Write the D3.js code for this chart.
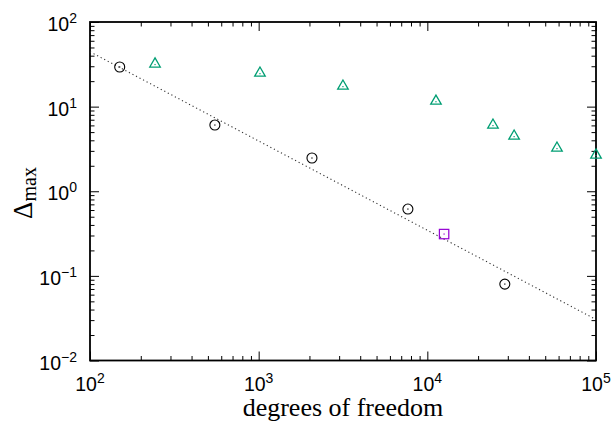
<!DOCTYPE html>
<html>
<head>
<meta charset="utf-8">
<script src="https://cdn.jsdelivr.net/npm/d3@7"></script>
<style>
  body { margin: 0; background: #fff; }
  svg { display: block; }
</style>
</head>
<body>
<div id="chart"></div>
<script>
// ============================================================
// Data
// ============================================================
const circleDof = [150, 550, 2070, 7670, 28800];
const circleVal = [29.4, 6.06, 2.47, 0.616, 0.080];

const triangleDof = [243, 1018, 3160, 11250, 24500, 32700, 58700, 100000];
const triangleVal = [31.9, 24.9, 17.5, 11.6, 6.06, 4.49, 3.24, 2.68];

const squareDof = [12570];
const squareVal = [0.312];

// reference slope line (dotted)
const fitDof = [100, 100000];
const fitVal = [44.5, 0.0305];

const xTickExp = [2, 3, 4, 5];
const yTickExp = [-2, -1, 0, 1, 2];

const COLORS = {
    circle: '#000000',
    triangle: '#009e73',
    square: '#9400d3',
    fit: '#333333'
};

// ============================================================
// Layout
// ============================================================
const W = 611, H = 429;
const margin = { left: 90, top: 22, right: 15, bottom: 68.5 };
const iw = W - margin.left - margin.right;
const ih = H - margin.top - margin.bottom;

const svg = d3.select('#chart').append('svg')
    .attr('width', W)
    .attr('height', H);

const g = svg.append('g')
    .attr('transform', `translate(${margin.left}, ${margin.top})`);

const x = d3.scaleLog().domain([1e2, 1e5]).range([0, iw]);
const y = d3.scaleLog().domain([1e-2, 1e2]).range([ih, 0]);

// minor tick values
function minorTicks(lo, hi) {
    const out = [];
    for (let e = lo; e < hi; e++) {
        for (let m = 2; m <= 9; m++) out.push(m * Math.pow(10, e));
    }
    return out;
}
const xMajor = xTickExp.map(e => Math.pow(10, e));
const yMajor = yTickExp.map(e => Math.pow(10, e));
const xMinor = minorTicks(2, 5);
const yMinor = minorTicks(-2, 2);

const MAJ = 9, MIN = 4.5;

function tickGroup(axisFn, scale, vals, size, transform) {
    const a = g.append('g')
        .attr('transform', transform)
        .call(axisFn(scale).tickValues(vals).tickSize(size).tickFormat(''));
    a.select('.domain').remove();
    a.selectAll('line').attr('stroke', '#000').attr('stroke-width', 1);
    return a;
}

// inward ticks on all four sides
tickGroup(d3.axisBottom, x, xMajor, -MAJ, `translate(0, ${ih})`);
tickGroup(d3.axisBottom, x, xMinor, -MIN, `translate(0, ${ih})`);
tickGroup(d3.axisTop, x, xMajor, -MAJ, 'translate(0, 0)');
tickGroup(d3.axisTop, x, xMinor, -MIN, 'translate(0, 0)');
tickGroup(d3.axisLeft, y, yMajor, -MAJ, 'translate(0, 0)');
tickGroup(d3.axisLeft, y, yMinor, -MIN, 'translate(0, 0)');
tickGroup(d3.axisRight, y, yMajor, -MAJ, `translate(${iw}, 0)`);
tickGroup(d3.axisRight, y, yMinor, -MIN, `translate(${iw}, 0)`);

// frame
g.append('rect')
    .attr('x', 0).attr('y', 0)
    .attr('width', iw).attr('height', ih)
    .attr('fill', 'none')
    .attr('stroke', '#000')
    .attr('stroke-width', 1.8);

// tick labels
const tickFont = '"Liberation Sans", Arial, sans-serif';

function powerLabel(sel, exp) {
    sel.append('tspan').text('10');
    sel.append('tspan')
        .attr('dy', -8)
        .attr('font-size', 14)
        .text(exp < 0 ? '\u2212' + Math.abs(exp) : exp);
}

g.append('g').selectAll('text')
    .data(xTickExp)
    .join('text')
    .attr('x', d => x(Math.pow(10, d)))
    .attr('y', ih + 30)
    .attr('text-anchor', 'middle')
    .attr('font-family', tickFont)
    .attr('font-size', 19.5)
    .each(function (d) { powerLabel(d3.select(this), d); });

g.append('g').selectAll('text')
    .data(yTickExp)
    .join('text')
    .attr('x', -13)
    .attr('y', d => y(Math.pow(10, d)) + 9)
    .attr('text-anchor', 'end')
    .attr('font-family', tickFont)
    .attr('font-size', 19.5)
    .each(function (d) { powerLabel(d3.select(this), d); });

// axis titles
const titleFont = '"Liberation Serif", "Times New Roman", serif';

svg.append('text')
    .attr('x', margin.left + iw / 2)
    .attr('y', 416)
    .attr('text-anchor', 'middle')
    .attr('font-family', titleFont)
    .attr('font-size', 26)
    .text('degrees of freedom');

const yl = svg.append('text')
    .attr('transform', 'translate(32, 193) rotate(-90)')
    .attr('text-anchor', 'middle')
    .attr('font-family', titleFont)
    .attr('font-size', 27);
yl.append('tspan').text('\u0394');
yl.append('tspan').attr('dy', 4).attr('font-size', 20).text('max');

// ============================================================
// Series
// ============================================================
const plot = g.append('g');

// dotted reference line
plot.append('path')
    .datum(d3.zip(fitDof, fitVal))
    .attr('d', d3.line().x(d => x(d[0])).y(d => y(d[1])))
    .attr('fill', 'none')
    .attr('stroke', COLORS.fit)
    .attr('stroke-width', 1.1)
    .attr('stroke-dasharray', '1.2,2.8');

function centerDots(pts, color) {
    plot.append('g').selectAll('rect')
        .data(pts)
        .join('rect')
        .attr('x', d => x(d[0]) - 0.6)
        .attr('y', d => y(d[1]) - 0.6)
        .attr('width', 1.2).attr('height', 1.2)
        .attr('fill', color);
}

// circles
const circlePts = d3.zip(circleDof, circleVal);
plot.append('g').selectAll('circle')
    .data(circlePts)
    .join('circle')
    .attr('cx', d => x(d[0]))
    .attr('cy', d => y(d[1]))
    .attr('r', 5)
    .attr('fill', 'none')
    .attr('stroke', COLORS.circle)
    .attr('stroke-width', 1.1);
centerDots(circlePts, COLORS.circle);

// triangles
const triPts = d3.zip(triangleDof, triangleVal);
const tri = d3.symbol().type(d3.symbolTriangle).size(48);
plot.append('g').selectAll('path')
    .data(triPts)
    .join('path')
    .attr('d', tri)
    .attr('transform', d => `translate(${x(d[0])}, ${y(d[1])})`)
    .attr('fill', 'none')
    .attr('stroke', COLORS.triangle)
    .attr('stroke-width', 1.3);
centerDots(triPts.map(d => [d[0], d[1] * 0.985]), COLORS.triangle);

// square
const sqPts = d3.zip(squareDof, squareVal);
plot.append('g').selectAll('rect.sq')
    .data(sqPts)
    .join('rect')
    .attr('class', 'sq')
    .attr('x', d => x(d[0]) - 4.7)
    .attr('y', d => y(d[1]) - 4.7)
    .attr('width', 9.4).attr('height', 9.4)
    .attr('fill', 'none')
    .attr('stroke', COLORS.square)
    .attr('stroke-width', 1.2);
centerDots(sqPts, COLORS.square);
</script>
</body>
</html>
